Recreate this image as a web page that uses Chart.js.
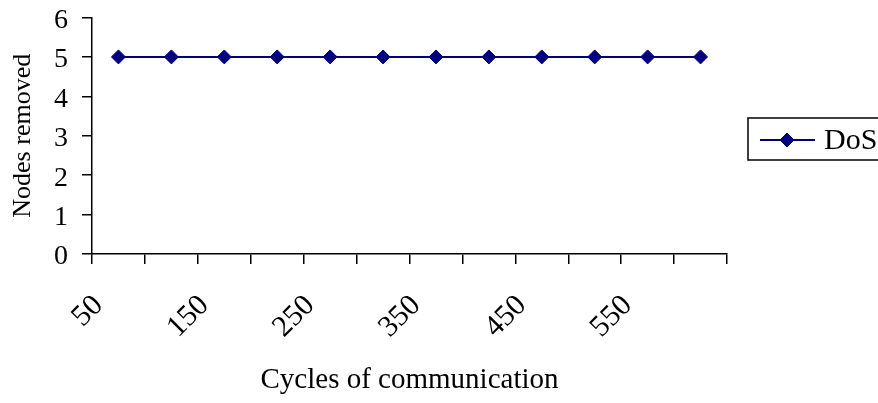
<!DOCTYPE html>
<html>
<head>
<meta charset="utf-8">
<script src="https://cdn.jsdelivr.net/npm/chart.js@4/dist/chart.umd.min.js"></script>
<style>
  html, body { margin: 0; padding: 0; background: #fff; }
  #wrap { width: 878px; height: 403px; }
</style>
</head>
<body>
<div id="wrap"><canvas id="c" width="878" height="403"></canvas></div>
<script>
// Cycles of communication (category axis)
const cycles = ['50', '100', '150', '200', '250', '300', '350', '400', '450', '500', '550', '600'];
// Labels printed under the axis (every other cycle)
const shownCycleLabels = ['50', '150', '250', '350', '450', '550'];
// Nodes removed under the DoS attack
const dosNodesRemoved = [5, 5, 5, 5, 5, 5, 5, 5, 5, 5, 5, 5];
// Value axis ticks
const nodeTicks = [0, 1, 2, 3, 4, 5, 6];

const SERIF = '"Liberation Serif", "Times New Roman", serif';
const NAVY = '#000080';

// Boxed legend on the right: line sample with a diamond marker and the series name
const boxedLegend = {
  id: 'boxedLegend',
  afterDraw(chart) {
    const { ctx, chartArea } = chart;
    const ds = chart.data.datasets[0];
    const left = chartArea.right + 21;
    const top = 118, bottom = 160;
    const y = 140;
    ctx.save();
    ctx.strokeStyle = '#000';
    ctx.lineWidth = 1.5;
    ctx.strokeRect(left, top, chart.width - left + 10, bottom - top);
    ctx.strokeStyle = ds.borderColor;
    ctx.lineWidth = ds.borderWidth;
    ctx.beginPath();
    ctx.moveTo(left + 12, y);
    ctx.lineTo(left + 67, y);
    ctx.stroke();
    ctx.fillStyle = ds.pointBackgroundColor;
    ctx.strokeStyle = ds.pointBorderColor;
    ctx.lineWidth = ds.pointBorderWidth;
    Chart.helpers.drawPoint(ctx, { pointStyle: 'rectRot', radius: ds.pointRadius, borderWidth: ds.pointBorderWidth, rotation: 0 }, left + 39, y);
    ctx.fillStyle = '#000';
    ctx.font = '30px ' + SERIF;
    ctx.textBaseline = 'middle';
    ctx.textAlign = 'left';
    ctx.fillText(ds.label, left + 76, y + 1);
    ctx.restore();
  }
};

new Chart(document.getElementById('c'), {
  type: 'line',
  data: {
    labels: cycles,
    datasets: [{
      label: 'DoS',
      data: dosNodesRemoved,
      borderColor: NAVY,
      backgroundColor: NAVY,
      borderWidth: 2,
      pointStyle: 'rectRot',
      pointRadius: 7,
      pointBorderWidth: 1,
      pointBackgroundColor: NAVY,
      pointBorderColor: NAVY,
      tension: 0,
      fill: false
    }]
  },
  options: {
    responsive: false,
    animation: false,
    devicePixelRatio: 1,
    layout: { padding: { top: 17.5, right: 151, left: 0, bottom: 0 } },
    plugins: {
      legend: { display: false },
      tooltip: { enabled: false }
    },
    scales: {
      x: {
        type: 'category',
        offset: true,
        grid: { offset: true, drawOnChartArea: false, drawTicks: true, tickLength: 10, color: '#000', lineWidth: 1.5 },
        border: { display: true, color: '#000', width: 1.5 },
        ticks: {
          autoSkip: false,
          minRotation: 45,
          maxRotation: 45,
          labelOffset: -20,
          padding: 24,
          color: '#000',
          font: { family: SERIF, size: 30 },
          callback(value, index) {
            const lab = cycles[index];
            return shownCycleLabels.includes(lab) ? lab : '';
          }
        },
        title: {
          display: true,
          text: 'Cycles of communication',
          color: '#000',
          font: { family: SERIF, size: 29 },
          padding: { top: 0, bottom: 5 }
        },
        afterFit(scale) {
          scale.height = 149;
          scale.paddingLeft = 0;
          scale.paddingRight = 0;
        }
      },
      y: {
        min: nodeTicks[0],
        max: nodeTicks[nodeTicks.length - 1],
        afterBuildTicks(scale) { scale.ticks = nodeTicks.map(v => ({ value: v })); },
        grid: { drawOnChartArea: false, drawTicks: true, tickLength: 10, color: '#000', lineWidth: 1.5 },
        border: { display: true, color: '#000', width: 1.5 },
        ticks: {
          padding: 14,
          labelOffset: 3,
          color: '#000',
          font: { family: SERIF, size: 28 }
        },
        title: {
          display: true,
          text: 'Nodes removed',
          color: '#000',
          font: { family: SERIF, size: 26 },
          padding: { top: 8, bottom: 0 }
        },
        afterFit(scale) {
          scale.width = 92;
          scale.paddingTop = 0;
          scale.paddingBottom = 0;
        }
      }
    }
  },
  plugins: [boxedLegend]
});
</script>
</body>
</html>
